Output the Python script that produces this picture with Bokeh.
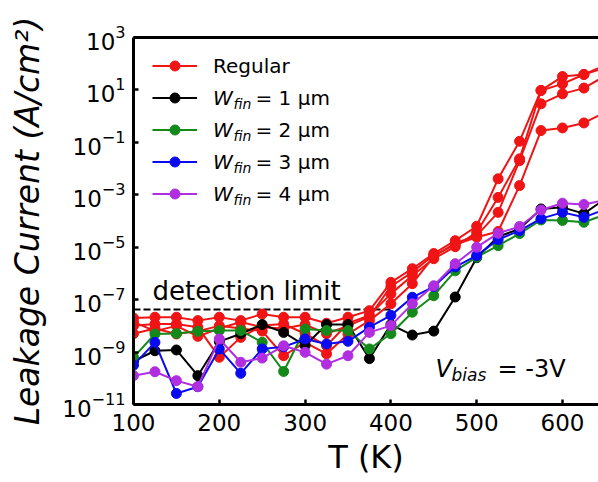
from bokeh.plotting import figure
from bokeh.models import (FixedTicker, LogTickFormatter, LinearAxis, Legend,
                          LegendItem, Label)
from bokeh.embed import file_html
from bokeh.resources import INLINE

# Temperature (K)
T = [100, 125, 150, 175, 200, 225, 250, 275, 300, 325, 350, 375, 400,
     425, 450, 475, 500, 525, 550, 575, 600, 625, 650]

# log10 of leakage current density (A/cm^2)
regular_a = [-7.7, -7.67, -7.67, -7.80, -7.67, -7.80, -7.55, -7.67, -7.67, -7.9, -7.67, -7.42,
             -6.34, -5.82, -5.24, -4.75, -4.2, -2.39, -0.96, 0.98, 1.51, 1.59, 1.95]
regular_b = [-8.0, -7.93, -7.93, -8.05, -9.2, -8.44, -7.99, -7.93, -8.3, -8.76, -7.9, -7.6,
             -6.78, -6.08, -5.44, -4.98, -4.43, -3.1, -1.63, 0.98, 1.23, 1.59, 1.85]
regular_c = [-8.3, -8.1, -8.31, -8.2, -8.0, -8.1, -8.2, -9.14, -8.63, -9.07, -8.31, -7.8,
             -7.16, -6.39, -5.35, -4.85, -4.56, -3.67, -1.7, 0.47, 0.85, 1.07, 1.54]
regular_d = [-7.85, -8.2, -8.0, -8.4, -8.1, -7.85, -8.05, -8.1, -7.95, -8.3, -8.0, -7.65,
             -6.5, -5.95, -5.3, -4.9, -4.62, -4.4, -2.65, -0.55, -0.45, -0.26, 0.15]
wfin_1 = [-9.35, -8.95, -8.92, -9.9, -8.6, -8.3, -7.95, -8.25, -8.75, -7.95, -7.95, -9.25,
          -7.95, -8.35, -8.2, -6.9, -5.4, -4.6, -4.3, -3.54, -3.48, -3.72, -3.15]
wfin_2 = [-9.2, -8.31, -8.29, -8.21, -8.18, -8.18, -8.63, -9.74, -8.12, -8.18, -8.18, -8.88,
          -8.3, -7.48, -6.85, -5.9, -5.38, -4.94, -4.48, -3.96, -3.98, -4.05, -3.75]
wfin_3 = [-9.5, -8.63, -10.58, -10.32, -8.88, -9.81, -8.88, -8.8, -8.5, -8.69, -8.59, -8.05,
          -7.6, -6.91, -6.5, -5.75, -5.32, -4.71, -4.37, -3.91, -3.67, -3.86, -3.55]
wfin_4 = [-9.9, -9.75, -10.09, -10.32, -8.5, -9.39, -9.23, -8.76, -9.01, -9.46, -9.14, -8.25,
          -7.99, -7.16, -6.47, -5.63, -5.0, -4.47, -4.21, -3.58, -3.32, -3.37, -3.2]

detection_T = [100, 400]
detection_level = [4.2e-8, 4.2e-8]

x_ticks = [100, 200, 300, 400, 500, 600]
y_ticks = [1e-11, 1e-9, 1e-7, 1e-5, 1e-3, 1e-1, 1e1, 1e3]

RED, BLACK, GREEN, BLUE, PURPLE = "#f01414", "#000000", "#13891a", "#0a0af0", "#b02ee0"
FONT = "DejaVu Sans"

p = figure(width=598, height=482, y_axis_type="log", x_range=(100, 642),
           y_range=(1e-11, 1e3), output_backend="svg", toolbar_location=None,
           min_border_left=133, min_border_right=0, min_border_top=37,
           min_border_bottom=78)
p.outline_line_color = None
p.grid.visible = False
p.background_fill_color = "white"
p.border_fill_color = "white"

xa = p.xaxis[0]
ya = p.yaxis[0]
for ax in (xa, ya):
    ax.axis_line_width = 3
    ax.axis_line_color = "black"
    ax.major_tick_in = 5
    ax.major_tick_out = 0
    ax.major_tick_line_width = 2.5
    ax.minor_tick_line_color = None
    ax.major_label_text_font = FONT
    ax.major_label_text_font_size = "23px"
    ax.major_label_text_color = "black"
    ax.axis_label_text_font = FONT
    ax.axis_label_text_color = "black"
xa.ticker = FixedTicker(ticks=x_ticks)
ya.ticker = FixedTicker(ticks=y_ticks)
ya.formatter = LogTickFormatter()
xa.major_label_standoff = 9
ya.major_label_standoff = 8

xa.axis_label = "T (K)"
xa.axis_label_text_font_size = "32px"
xa.axis_label_text_font_style = "normal"
xa.axis_label_standoff = 4
ya.axis_label = "Leakage Current (A/cm²)"
ya.axis_label_text_font_size = "33px"
ya.axis_label_text_font_style = "italic"
ya.axis_label_standoff = 12

top = LinearAxis(ticker=FixedTicker(ticks=[]), axis_line_width=3,
                 major_label_text_font_size="0px", major_tick_line_color=None,
                 minor_tick_line_color=None)
p.add_layout(top, "above")

# detection limit
p.line(detection_T, detection_level, line_color="black", line_width=2, line_dash="7 3")


def draw(vals, color):
    y = [10 ** v for v in vals]
    r1 = p.line(T, y, line_color=color, line_width=2)
    r2 = p.scatter(T, y, size=10, fill_color=color, line_color=color)
    return [r1, r2]


reg = []
for s in (regular_a, regular_b, regular_c, regular_d):
    reg.append(draw(s, RED))
w1 = draw(wfin_1, BLACK)
w2 = draw(wfin_2, GREEN)
w3 = draw(wfin_3, BLUE)
w4 = draw(wfin_4, PURPLE)

common = dict(padding=0, margin=0, spacing=7, glyph_width=45, glyph_height=25,
              label_height=25, label_standoff=16, border_line_color=None,
              background_fill_alpha=0, label_text_font=FONT,
              label_text_font_size="20px", label_text_color="black")
leg_a = Legend(items=[LegendItem(label="Regular", renderers=reg[0])],
               location=(19, 325.8), **common)
leg_b = Legend(items=[LegendItem(label="W", renderers=w) for w in (w1, w2, w3, w4)],
               location=(19, 197.8), label_text_font_style="italic", **common)
p.add_layout(leg_a)
p.add_layout(leg_b)

FRAME_L, FRAME_B = 133, 404


def lab(text, ax, ay, size, style="normal", baseline="alphabetic"):
    p.add_layout(Label(x=ax - FRAME_L, y=FRAME_B - ay, x_units="screen", y_units="screen",
                       text=text, text_font=FONT, text_font_size=f"{size}px",
                       text_font_style=style, text_align="left",
                       text_baseline=baseline, text_color="black"))


# legend text pieces
for i, n in enumerate(["1", "2", "3", "4"]):
    cy = 97.7 + 32 * i
    lab("fin", 233, cy + 6, 14, "italic", baseline="middle")
    lab(f"= {n} µm", 255, cy, 20, baseline="middle")

lab("detection limit", 152, 290, 26)
lab("V", 435, 368, 24, "italic")
lab("bias", 451, 374, 17, "italic")
lab("= -3V", 497, 368, 24)

open("out.html", "w").write(file_html(p, INLINE))
